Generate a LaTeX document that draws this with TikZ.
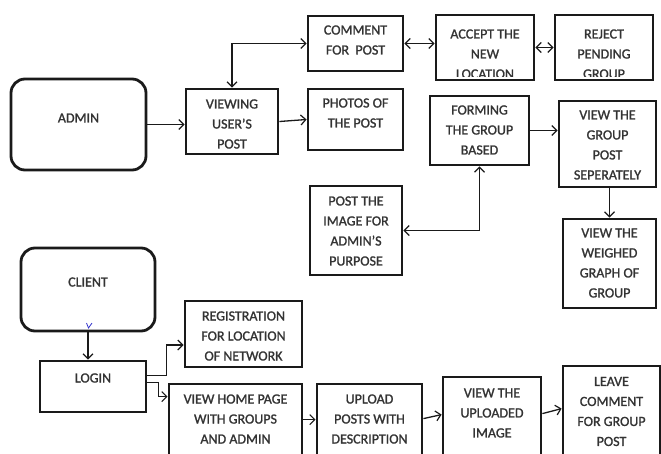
\documentclass[tikz,border=0pt]{standalone}
\usepackage{fontspec}
\setmainfont{Carlito}[FakeBold=1.3]
\usetikzlibrary{arrows.meta,calc}
\definecolor{ink}{HTML}{1A1A1A}
\definecolor{txtc}{HTML}{333333}
\tikzset{
  box/.style={draw=ink, line width=2.8pt, inner sep=0pt, fill=white},
  rbox/.style={box, rounded corners=14pt},
  txt/.style={text=txtc, align=center, inner sep=0pt, font=\fontsize{14}{20}\selectfont},
  arr/.style={draw=ink, line width=1.3pt, -{Straight Barb[length=5pt,width=10pt,line width=1.2pt]}},
  darr/.style={draw=ink, line width=1.3pt, {Straight Barb[length=5pt,width=10pt,line width=1.2pt]}-{Straight Barb[length=5pt,width=10pt,line width=1.2pt]}}
}
\begin{document}
\begin{tikzpicture}[x=1pt,y=-1pt]
\useasboundingbox (0,0) rectangle (661,453);
\clip (0,0) rectangle (661,453);
% clipped texts of the two top-right boxes
\begin{scope}
  \clip (436,15) rectangle (653,76.8);
  \node[txt] (accept-t) at (485,54) {ACCEPT THE\\NEW\\LOCATION};
  \node[txt] (reject-t) at (604,54) {REJECT\\PENDING\\GROUP};
\end{scope}
% boxes
\node[rbox, minimum width=135pt, minimum height=91pt] (admin) at (78.5,124.5) {};
\node[box, minimum width=92pt, minimum height=65pt] (view) at (232,121.5) {};
\node[box, minimum width=95pt, minimum height=55pt] (comment) at (355.5,43.5) {};
\node[box, minimum width=95pt, minimum height=61pt] (photos) at (355.5,119.5) {};
\node[box, fill=none, minimum width=98pt, minimum height=65pt] (accept) at (485,47.5) {};
\node[box, fill=none, minimum width=98pt, minimum height=65pt] (reject) at (604,47.5) {};
\node[box, minimum width=99pt, minimum height=69pt] (forming) at (479.5,130.5) {};
\node[box, minimum width=97pt, minimum height=86pt] (groupview) at (607.5,144) {};
\node[box, minimum width=93pt, minimum height=89pt] (weighed) at (609.5,263.5) {};
\node[box, minimum width=92pt, minimum height=89pt] (postimg) at (356,230.5) {};
\node[rbox, minimum width=134pt, minimum height=83pt] (client) at (88,289.5) {};
\node[box, minimum width=106pt, minimum height=51pt] (login) at (93,386.5) {};
\node[box, minimum width=117pt, minimum height=66pt] (reg) at (243.5,334) {};
\node[box, minimum width=133pt, minimum height=86pt] (home) at (235.5,427) {};
\node[box, minimum width=105pt, minimum height=86pt] (upload) at (369.5,427) {};
\node[box, minimum width=98pt, minimum height=93pt] (uploaded) at (492,423.5) {};
\node[box, minimum width=97pt, minimum height=104pt] (leave) at (611.5,418) {};
% texts
\node[txt] (admin-t) at (78.5,118) {ADMIN};
\node[txt] (view-t) at (232,124) {VIEWING\\USER'S\\POST};
\node[txt] (comment-t) at (355.5,40) {COMMENT\\FOR\ \ POST};
\node[txt] (photos-t) at (355.5,113) {PHOTOS OF\\THE POST};
\node[txt] (forming-t) at (479.5,130) {FORMING\\THE GROUP\\BASED};
\node[txt] (groupview-t) at (607.5,145) {VIEW THE\\GROUP\\POST\\SEPERATELY};
\node[txt] (weighed-t) at (609.5,263) {VIEW THE\\WEIGHED\\GRAPH OF\\GROUP};
\node[txt] (postimg-t) at (356,231) {POST THE\\IMAGE FOR\\ADMIN'S\\PURPOSE};
\node[txt] (client-t) at (88,282) {CLIENT};
\node[txt] (login-t) at (93,378) {LOGIN};
\node[txt] (reg-t) at (243.5,336) {REGISTRATION\\FOR LOCATION\\OF NETWORK};
\node[txt] (home-t) at (235.5,419) {VIEW HOME PAGE\\WITH GROUPS\\AND ADMIN};
\node[txt] (upload-t) at (369.5,419) {UPLOAD\\POSTS WITH\\DESCRIPTION};
\node[txt] (uploaded-t) at (492,413) {VIEW THE\\UPLOADED\\IMAGE};
\node[txt] (leave-t) at (611.5,411.5) {LEAVE\\COMMENT\\FOR GROUP\\POST};
% connectors
\draw[arr] (admin.east) -- (admin.east -| view.west);
\draw[arr] (view.east) -- (photos.west);
\draw[darr] (view.north) |- (comment.west);
\draw[darr] (comment.east) -- (comment.east -| accept.west);
\draw[darr] (accept.east) -- (reject.west);
\draw[arr] (forming.east) -- (forming.east -| groupview.west);
\draw[arr] ([xshift=2pt]groupview.south) -- ([xshift=2pt]groupview.south |- weighed.north);
\draw[darr] (postimg.east) -| (forming.south);
\draw[arr] (client.south) -- (client.south |- login.north);
\draw[arr] ([yshift=-16pt]login.north east) -- ++(19,0) |- ([yshift=-11pt]reg.west);
\draw[arr] ([yshift=-23pt]login.north east) -- ++(11,0) |- ([yshift=-14pt]home.north west);
\draw[arr] ([yshift=-37pt]home.north east) -- ([yshift=-37pt]upload.north west);
\draw[arr] ([yshift=-36pt]upload.north east) -- ([yshift=-39pt]uploaded.north west);
\draw[arr] ([yshift=-38pt]uploaded.north east) -- ([yshift=-44pt]leave.north west);
% stray pen mark
\draw[blue!60!gray, line width=0.8pt] (86.5,323) .. controls (88,326) .. (88.5,328) .. controls (90,325) .. (92,323);
\end{tikzpicture}
\end{document}
